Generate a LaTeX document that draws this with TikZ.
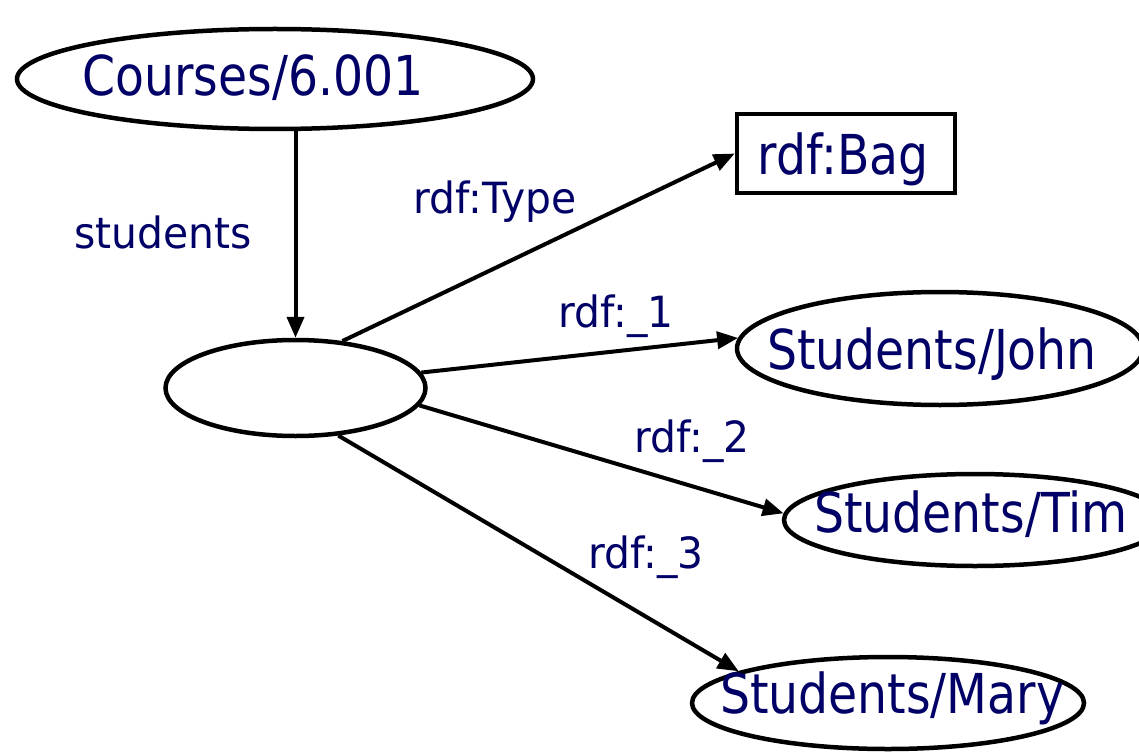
\documentclass[tikz,border=0pt]{standalone}
\usepackage{fontspec}
\setmainfont{DejaVu Sans}
\newfontfamily\mainf[FakeStretch=0.86]{DejaVu Sans}
\newfontfamily\labf[FakeStretch=0.95]{DejaVu Sans}
\usetikzlibrary{arrows.meta,shapes.geometric}
\definecolor{navy}{RGB}{0,0,102}
\begin{document}
\begin{tikzpicture}[x=1pt,y=-1pt,
  oval/.style={draw, line width=4.5pt, ellipse, inner sep=0pt},
  boxnode/.style={draw, line width=4.5pt, rectangle, inner sep=0pt},
  bigtext/.style={text=navy, font=\mainf\fontsize{55}{60}\selectfont, anchor=base, inner sep=0pt},
  lab/.style={text=navy, font=\labf\fontsize{43}{48}\selectfont, anchor=base, inner sep=0pt},
  arr/.style={line width=4pt, -{Triangle[length=21pt,width=17pt]}}]
\useasboundingbox (0,0) rectangle (1139,754);
% shapes
\node[oval, minimum width=516pt, minimum height=100pt] (courses) at (275,79) {};
\node[oval, minimum width=260pt, minimum height=96pt] (blank) at (295.5,388) {};
\node[boxnode, minimum width=218pt, minimum height=79pt] (bag) at (846,153.5) {};
\node[oval, minimum width=406pt, minimum height=113pt] (john) at (940,348.5) {};
\node[oval, minimum width=382pt, minimum height=92pt] (tim) at (975,520) {};
\node[oval, minimum width=392pt, minimum height=92pt] (mary) at (888,703) {};
% node texts
\node[bigtext] (tcourses) at (253,96) {Courses/6.001};
\node[bigtext] (tbag) at (843,175) {rdf:Bag};
\node[bigtext] (tjohn) at (932,369) {Students/John};
\node[bigtext] (ttim) at (971,532) {Students/Tim};
\node[bigtext] (tmary) at (892,713) {Students/Mary};
% connectors
\draw[arr] (courses.south -| blank.north) -- (blank.north);
\draw[arr] (blank.45) -- (bag.west);
\draw[arr] (blank.7) -- (john.177.6);
\draw[arr] (blank.-8) -- (tim.178);
\draw[arr] (blank.-48) -- (mary.168.5);
% labels
\node[lab] (lstudents) at (163,248) {students};
\node[lab] (ltype) at (495,213) {rdf:Type};
\node[lab] (l1) at (616,327) {rdf:\_1};
\node[lab] (l2) at (692,452) {rdf:\_2};
\node[lab] (l3) at (646,568) {rdf:\_3};
\end{tikzpicture}
\end{document}
